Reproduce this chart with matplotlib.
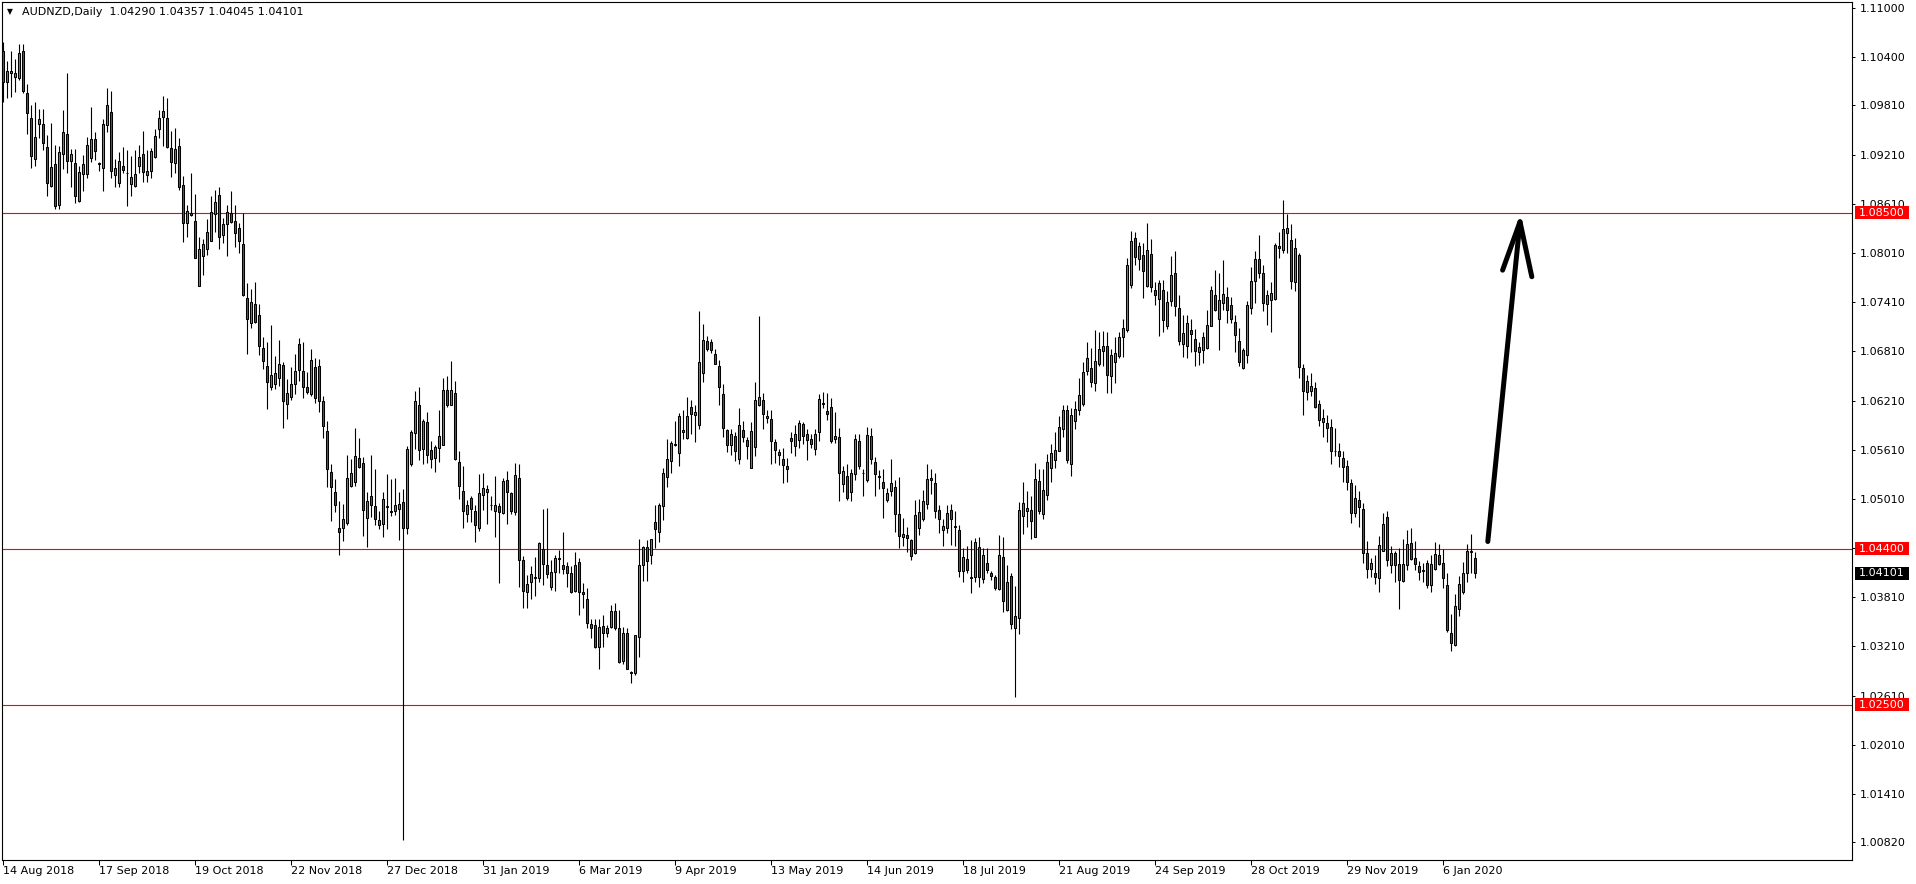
import numpy as np
import pandas as pd
import matplotlib
matplotlib.use('Agg')
from matplotlib import pyplot as plt
from matplotlib.patches import Rectangle
from matplotlib.transforms import blended_transform_factory

# AUDNZD daily candles, 14 Aug 2018 .. 16 Jan 2020
symbol = 'AUDNZD,Daily'
first_day = '2018-08-14'
last_day = '2020-01-16'
holidays = ['2018-12-25', '2019-01-01', '2019-12-25', '2020-01-01']

opens = [
    1.1047, 1.1009, 1.1021, 1.1016, 1.1014, 1.1047, 1.0996, 1.0966, 1.0916, 1.0958,
    1.0958, 1.0930, 1.0883, 1.0910, 1.0859, 1.0922, 1.0946, 1.0913, 1.0911, 1.0864,
    1.0897, 1.0897, 1.0917, 1.0940, 1.0911, 1.0905, 1.0957, 1.0973, 1.0896, 1.0886,
    1.0907, 1.0899, 1.0885, 1.0883, 1.0907, 1.0922, 1.0896, 1.0901, 1.0918, 1.0952,
    1.0967, 1.0966, 1.0929, 1.0911, 1.0932, 1.0884, 1.0837, 1.0850, 1.0840, 1.0761,
    1.0797, 1.0806, 1.0816, 1.0848, 1.0872, 1.0823, 1.0836, 1.0850, 1.0840, 1.0831,
    1.0812, 1.0746, 1.0715, 1.0739, 1.0725, 1.0685, 1.0663, 1.0637, 1.0641, 1.0648,
    1.0664, 1.0617, 1.0625, 1.0641, 1.0690, 1.0657, 1.0638, 1.0629, 1.0662, 1.0663,
    1.0621, 1.0584, 1.0534, 1.0509, 1.0466, 1.0465, 1.0471, 1.0517, 1.0521, 1.0551,
    1.0545, 1.0478, 1.0505, 1.0492, 1.0469, 1.0470, 1.0491, 1.0486, 1.0486, 1.0489,
    1.0497, 1.0465, 1.0543, 1.0581, 1.0616, 1.0562, 1.0595, 1.0561, 1.0551, 1.0563,
    1.0567, 1.0634, 1.0616, 1.0630, 1.0546, 1.0511, 1.0482, 1.0502, 1.0486, 1.0465,
    1.0506, 1.0509, 1.0494, 1.0486, 1.0492, 1.0484, 1.0524, 1.0508, 1.0485, 1.0527,
    1.0426, 1.0388, 1.0399, 1.0406, 1.0404, 1.0440, 1.0420, 1.0393, 1.0412, 1.0428,
    1.0420, 1.0419, 1.0410, 1.0389, 1.0424, 1.0387, 1.0379, 1.0348, 1.0347, 1.0320,
    1.0346, 1.0338, 1.0345, 1.0364, 1.0344, 1.0303, 1.0337, 1.0290, 1.0289, 1.0333,
    1.0420, 1.0442, 1.0432, 1.0473, 1.0461, 1.0492, 1.0528, 1.0547, 1.0567, 1.0557,
    1.0582, 1.0575, 1.0613, 1.0603, 1.0591, 1.0654, 1.0693, 1.0692, 1.0678, 1.0663,
    1.0629, 1.0585, 1.0567, 1.0578, 1.0550, 1.0585, 1.0573, 1.0539, 1.0564, 1.0615,
    1.0622, 1.0600, 1.0599, 1.0570, 1.0558, 1.0550, 1.0541, 1.0575, 1.0565, 1.0573,
    1.0592, 1.0580, 1.0574, 1.0562, 1.0582, 1.0618, 1.0608, 1.0613, 1.0574, 1.0577,
    1.0519, 1.0529, 1.0510, 1.0531, 1.0571, 1.0533, 1.0524, 1.0578, 1.0546, 1.0529,
    1.0521, 1.0500, 1.0511, 1.0515, 1.0482, 1.0455, 1.0457, 1.0451, 1.0435, 1.0466,
    1.0477, 1.0495, 1.0526, 1.0520, 1.0487, 1.0463, 1.0466, 1.0487, 1.0468, 1.0463,
    1.0413, 1.0428, 1.0406, 1.0406, 1.0442, 1.0403, 1.0423, 1.0410, 1.0406, 1.0391,
    1.0430, 1.0365, 1.0407, 1.0343, 1.0356, 1.0480, 1.0486, 1.0487, 1.0455, 1.0523,
    1.0482, 1.0506, 1.0539, 1.0549, 1.0560, 1.0586, 1.0610, 1.0543, 1.0596, 1.0609,
    1.0617, 1.0657, 1.0661, 1.0642, 1.0666, 1.0681, 1.0688, 1.0651, 1.0668, 1.0675,
    1.0698, 1.0707, 1.0762, 1.0819, 1.0794, 1.0799, 1.0761, 1.0800, 1.0756, 1.0745,
    1.0756, 1.0712, 1.0742, 1.0777, 1.0734, 1.0690, 1.0687, 1.0707, 1.0696, 1.0680,
    1.0682, 1.0685, 1.0712, 1.0750, 1.0720, 1.0740, 1.0747, 1.0737, 1.0717, 1.0694,
    1.0661, 1.0676, 1.0734, 1.0767, 1.0794, 1.0777, 1.0739, 1.0743, 1.0745, 1.0809,
    1.0804, 1.0825, 1.0817, 1.0766, 1.0798, 1.0661, 1.0631, 1.0632, 1.0636, 1.0617,
    1.0595, 1.0594, 1.0589, 1.0560, 1.0559, 1.0551, 1.0541, 1.0520, 1.0484, 1.0500,
    1.0489, 1.0435, 1.0416, 1.0410, 1.0404, 1.0438, 1.0479, 1.0420, 1.0435, 1.0421,
    1.0401, 1.0420, 1.0447, 1.0429, 1.0419, 1.0414, 1.0423, 1.0396, 1.0415, 1.0433,
    1.0423, 1.0396, 1.0337, 1.0323, 1.0367, 1.0387, 1.0410, 1.0436, 1.04290,
]
highs = [
    1.1058, 1.1035, 1.1047, 1.1038, 1.1056, 1.1056, 1.1007, 1.0981, 1.0985, 1.0976,
    1.0977, 1.0945, 1.0960, 1.0933, 1.0932, 1.0975, 1.1020, 1.0928, 1.0928, 1.0907,
    1.0921, 1.0943, 1.0979, 1.0949, 1.0912, 1.0964, 1.1002, 1.0998, 1.0915, 1.0924,
    1.0930, 1.0926, 1.0919, 1.0927, 1.0933, 1.0950, 1.0927, 1.0929, 1.0952, 1.0975,
    1.0993, 1.0990, 1.0950, 1.0953, 1.0941, 1.0895, 1.0859, 1.0899, 1.0873, 1.0820,
    1.0818, 1.0842, 1.0870, 1.0878, 1.0882, 1.0844, 1.0859, 1.0877, 1.0859, 1.0837,
    1.0850, 1.0764, 1.0757, 1.0766, 1.0739, 1.0698, 1.0692, 1.0713, 1.0675, 1.0695,
    1.0668, 1.0647, 1.0662, 1.0678, 1.0697, 1.0692, 1.0656, 1.0684, 1.0673, 1.0672,
    1.0626, 1.0596, 1.0544, 1.0525, 1.0499, 1.0495, 1.0555, 1.0550, 1.0587, 1.0575,
    1.0552, 1.0510, 1.0555, 1.0538, 1.0486, 1.0510, 1.0531, 1.0525, 1.0526, 1.0509,
    1.0513, 1.0566, 1.0585, 1.0632, 1.0638, 1.0598, 1.0607, 1.0572, 1.0567, 1.0610,
    1.0649, 1.0651, 1.0669, 1.0645, 1.0559, 1.0541, 1.0500, 1.0505, 1.0493, 1.0531,
    1.0532, 1.0518, 1.0505, 1.0529, 1.0496, 1.0527, 1.0535, 1.0510, 1.0545, 1.0544,
    1.0431, 1.0408, 1.0419, 1.0430, 1.0449, 1.0489, 1.0490, 1.0427, 1.0433, 1.0439,
    1.0460, 1.0424, 1.0419, 1.0436, 1.0429, 1.0398, 1.0392, 1.0354, 1.0354, 1.0354,
    1.0359, 1.0347, 1.0371, 1.0374, 1.0365, 1.0345, 1.0343, 1.0291, 1.0335, 1.0452,
    1.0444, 1.0451, 1.0452, 1.0493, 1.0496, 1.0539, 1.0574, 1.0571, 1.0596, 1.0606,
    1.0610, 1.0625, 1.0622, 1.0616, 1.0730, 1.0714, 1.0700, 1.0696, 1.0684, 1.0671,
    1.0641, 1.0586, 1.0586, 1.0582, 1.0612, 1.0596, 1.0576, 1.0595, 1.0643, 1.0724,
    1.0630, 1.0610, 1.0609, 1.0574, 1.0562, 1.0563, 1.0551, 1.0582, 1.0591, 1.0597,
    1.0595, 1.0586, 1.0580, 1.0586, 1.0629, 1.0631, 1.0630, 1.0624, 1.0607, 1.0588,
    1.0541, 1.0544, 1.0537, 1.0580, 1.0580, 1.0538, 1.0589, 1.0588, 1.0552, 1.0536,
    1.0538, 1.0514, 1.0550, 1.0524, 1.0528, 1.0478, 1.0467, 1.0452, 1.0500, 1.0501,
    1.0512, 1.0544, 1.0538, 1.0533, 1.0493, 1.0476, 1.0493, 1.0495, 1.0486, 1.0469,
    1.0441, 1.0443, 1.0451, 1.0453, 1.0454, 1.0441, 1.0441, 1.0413, 1.0408, 1.0457,
    1.0455, 1.0420, 1.0411, 1.0395, 1.0497, 1.0521, 1.0511, 1.0504, 1.0545, 1.0537,
    1.0537, 1.0556, 1.0568, 1.0582, 1.0602, 1.0615, 1.0615, 1.0612, 1.0620, 1.0649,
    1.0668, 1.0692, 1.0685, 1.0707, 1.0705, 1.0706, 1.0705, 1.0684, 1.0698, 1.0704,
    1.0721, 1.0795, 1.0828, 1.0826, 1.0814, 1.0813, 1.0837, 1.0818, 1.0765, 1.0768,
    1.0768, 1.0754, 1.0797, 1.0803, 1.0750, 1.0725, 1.0725, 1.0720, 1.0708, 1.0692,
    1.0704, 1.0732, 1.0761, 1.0780, 1.0776, 1.0792, 1.0759, 1.0747, 1.0725, 1.0709,
    1.0685, 1.0742, 1.0784, 1.0803, 1.0823, 1.0786, 1.0756, 1.0766, 1.0813, 1.0826,
    1.0865, 1.0849, 1.0836, 1.0819, 1.0801, 1.0666, 1.0652, 1.0655, 1.0644, 1.0622,
    1.0611, 1.0603, 1.0599, 1.0588, 1.0569, 1.0559, 1.0549, 1.0525, 1.0518, 1.0511,
    1.0496, 1.0450, 1.0429, 1.0432, 1.0456, 1.0484, 1.0486, 1.0444, 1.0437, 1.0441,
    1.0452, 1.0463, 1.0465, 1.0450, 1.0425, 1.0423, 1.0427, 1.0432, 1.0449, 1.0446,
    1.0440, 1.0410, 1.0361, 1.0385, 1.0407, 1.0424, 1.0446, 1.0458, 1.04357,
]
lows = [
    1.0985, 1.0990, 1.0991, 1.0997, 1.1012, 1.0996, 1.0946, 1.0905, 1.0907, 1.0941,
    1.0926, 1.0870, 1.0881, 1.0854, 1.0854, 1.0903, 1.0899, 1.0881, 1.0862, 1.0863,
    1.0876, 1.0892, 1.0912, 1.0914, 1.0901, 1.0876, 1.0948, 1.0892, 1.0882, 1.0882,
    1.0898, 1.0858, 1.0871, 1.0882, 1.0899, 1.0888, 1.0888, 1.0892, 1.0917, 1.0941,
    1.0931, 1.0929, 1.0894, 1.0899, 1.0878, 1.0814, 1.0820, 1.0846, 1.0795, 1.0761,
    1.0774, 1.0798, 1.0815, 1.0827, 1.0806, 1.0813, 1.0797, 1.0838, 1.0808, 1.0801,
    1.0748, 1.0678, 1.0709, 1.0715, 1.0676, 1.0660, 1.0611, 1.0634, 1.0635, 1.0639,
    1.0588, 1.0599, 1.0622, 1.0629, 1.0645, 1.0624, 1.0629, 1.0626, 1.0618, 1.0607,
    1.0575, 1.0515, 1.0474, 1.0485, 1.0433, 1.0450, 1.0469, 1.0515, 1.0517, 1.0539,
    1.0456, 1.0442, 1.0479, 1.0469, 1.0464, 1.0454, 1.0464, 1.0480, 1.0481, 1.0451,
    1.0085, 1.0458, 1.0541, 1.0562, 1.0549, 1.0544, 1.0545, 1.0539, 1.0534, 1.0546,
    1.0567, 1.0613, 1.0615, 1.0549, 1.0501, 1.0465, 1.0473, 1.0473, 1.0449, 1.0462,
    1.0488, 1.0470, 1.0487, 1.0454, 1.0398, 1.0483, 1.0470, 1.0483, 1.0481, 1.0394,
    1.0368, 1.0368, 1.0379, 1.0382, 1.0400, 1.0396, 1.0405, 1.0390, 1.0389, 1.0410,
    1.0409, 1.0394, 1.0386, 1.0388, 1.0359, 1.0368, 1.0343, 1.0331, 1.0319, 1.0293,
    1.0320, 1.0332, 1.0344, 1.0341, 1.0301, 1.0299, 1.0293, 1.0276, 1.0286, 1.0308,
    1.0401, 1.0401, 1.0421, 1.0441, 1.0449, 1.0475, 1.0515, 1.0532, 1.0566, 1.0541,
    1.0574, 1.0574, 1.0580, 1.0570, 1.0586, 1.0644, 1.0681, 1.0679, 1.0665, 1.0616,
    1.0576, 1.0558, 1.0555, 1.0547, 1.0543, 1.0570, 1.0550, 1.0539, 1.0553, 1.0614,
    1.0586, 1.0593, 1.0544, 1.0545, 1.0542, 1.0520, 1.0522, 1.0557, 1.0553, 1.0563,
    1.0568, 1.0548, 1.0563, 1.0554, 1.0571, 1.0612, 1.0597, 1.0569, 1.0569, 1.0499,
    1.0509, 1.0500, 1.0498, 1.0524, 1.0537, 1.0505, 1.0522, 1.0544, 1.0505, 1.0513,
    1.0478, 1.0497, 1.0504, 1.0460, 1.0441, 1.0444, 1.0436, 1.0426, 1.0434, 1.0457,
    1.0474, 1.0489, 1.0507, 1.0478, 1.0459, 1.0444, 1.0459, 1.0445, 1.0444, 1.0406,
    1.0399, 1.0410, 1.0386, 1.0399, 1.0394, 1.0398, 1.0410, 1.0402, 1.0390, 1.0390,
    1.0363, 1.0364, 1.0342, 1.0259, 1.0336, 1.0458, 1.0467, 1.0452, 1.0454, 1.0483,
    1.0477, 1.0500, 1.0522, 1.0539, 1.0559, 1.0577, 1.0545, 1.0529, 1.0586, 1.0603,
    1.0614, 1.0652, 1.0637, 1.0633, 1.0663, 1.0663, 1.0630, 1.0630, 1.0642, 1.0673,
    1.0674, 1.0705, 1.0758, 1.0786, 1.0780, 1.0746, 1.0760, 1.0753, 1.0737, 1.0700,
    1.0704, 1.0708, 1.0736, 1.0724, 1.0689, 1.0674, 1.0673, 1.0680, 1.0663, 1.0664,
    1.0667, 1.0684, 1.0712, 1.0730, 1.0682, 1.0732, 1.0715, 1.0715, 1.0680, 1.0663,
    1.0660, 1.0667, 1.0726, 1.0740, 1.0771, 1.0730, 1.0713, 1.0705, 1.0743, 1.0795,
    1.0801, 1.0801, 1.0757, 1.0754, 1.0648, 1.0603, 1.0622, 1.0627, 1.0612, 1.0590,
    1.0577, 1.0570, 1.0544, 1.0553, 1.0540, 1.0522, 1.0512, 1.0472, 1.0479, 1.0467,
    1.0423, 1.0405, 1.0406, 1.0397, 1.0388, 1.0437, 1.0419, 1.0411, 1.0400, 1.0367,
    1.0400, 1.0414, 1.0427, 1.0414, 1.0402, 1.0399, 1.0392, 1.0387, 1.0414, 1.0420,
    1.0392, 1.0339, 1.0315, 1.0322, 1.0358, 1.0385, 1.0399, 1.0411, 1.04045,
]
closes = [
    1.1010, 1.1023, 1.1023, 1.1020, 1.1045, 1.0998, 1.0972, 1.0919, 1.0943, 1.0964,
    1.0935, 1.0886, 1.0906, 1.0858, 1.0924, 1.0948, 1.0913, 1.0922, 1.0871, 1.0900,
    1.0910, 1.0933, 1.0940, 1.0925, 1.0909, 1.0958, 1.0982, 1.0901, 1.0905, 1.0913,
    1.0902, 1.0899, 1.0894, 1.0897, 1.0918, 1.0900, 1.0901, 1.0925, 1.0944, 1.0966,
    1.0974, 1.0930, 1.0912, 1.0928, 1.0881, 1.0838, 1.0852, 1.0847, 1.0795, 1.0806,
    1.0812, 1.0826, 1.0851, 1.0863, 1.0821, 1.0836, 1.0851, 1.0839, 1.0825, 1.0816,
    1.0750, 1.0721, 1.0741, 1.0717, 1.0688, 1.0669, 1.0643, 1.0652, 1.0654, 1.0665,
    1.0620, 1.0630, 1.0641, 1.0657, 1.0658, 1.0637, 1.0631, 1.0670, 1.0624, 1.0620,
    1.0590, 1.0538, 1.0515, 1.0493, 1.0461, 1.0477, 1.0526, 1.0532, 1.0553, 1.0540,
    1.0488, 1.0499, 1.0493, 1.0476, 1.0475, 1.0501, 1.0492, 1.0485, 1.0493, 1.0495,
    1.0466, 1.0562, 1.0582, 1.0621, 1.0561, 1.0596, 1.0555, 1.0550, 1.0564, 1.0578,
    1.0634, 1.0615, 1.0634, 1.0550, 1.0517, 1.0486, 1.0493, 1.0489, 1.0469, 1.0508,
    1.0514, 1.0513, 1.0493, 1.0493, 1.0485, 1.0523, 1.0509, 1.0486, 1.0530, 1.0427,
    1.0389, 1.0397, 1.0409, 1.0405, 1.0447, 1.0422, 1.0409, 1.0412, 1.0429, 1.0429,
    1.0416, 1.0410, 1.0387, 1.0420, 1.0388, 1.0385, 1.0350, 1.0343, 1.0320, 1.0345,
    1.0337, 1.0343, 1.0364, 1.0343, 1.0302, 1.0337, 1.0293, 1.0289, 1.0335, 1.0420,
    1.0442, 1.0425, 1.0452, 1.0464, 1.0493, 1.0532, 1.0550, 1.0569, 1.0568, 1.0602,
    1.0585, 1.0602, 1.0604, 1.0607, 1.0668, 1.0695, 1.0684, 1.0682, 1.0666, 1.0638,
    1.0587, 1.0567, 1.0580, 1.0559, 1.0591, 1.0576, 1.0566, 1.0584, 1.0622, 1.0625,
    1.0604, 1.0602, 1.0572, 1.0561, 1.0555, 1.0542, 1.0538, 1.0571, 1.0580, 1.0593,
    1.0578, 1.0573, 1.0568, 1.0580, 1.0623, 1.0617, 1.0605, 1.0572, 1.0578, 1.0532,
    1.0535, 1.0502, 1.0532, 1.0574, 1.0541, 1.0532, 1.0579, 1.0550, 1.0531, 1.0528,
    1.0514, 1.0508, 1.0520, 1.0483, 1.0456, 1.0458, 1.0453, 1.0431, 1.0481, 1.0485,
    1.0498, 1.0525, 1.0524, 1.0486, 1.0476, 1.0468, 1.0484, 1.0476, 1.0467, 1.0413,
    1.0430, 1.0414, 1.0405, 1.0448, 1.0406, 1.0432, 1.0414, 1.0407, 1.0392, 1.0432,
    1.0377, 1.0400, 1.0348, 1.0358, 1.0487, 1.0496, 1.0490, 1.0474, 1.0525, 1.0486,
    1.0512, 1.0546, 1.0557, 1.0561, 1.0589, 1.0610, 1.0549, 1.0603, 1.0611, 1.0628,
    1.0656, 1.0673, 1.0644, 1.0669, 1.0684, 1.0688, 1.0652, 1.0676, 1.0679, 1.0699,
    1.0709, 1.0786, 1.0815, 1.0796, 1.0809, 1.0779, 1.0805, 1.0759, 1.0750, 1.0764,
    1.0719, 1.0741, 1.0774, 1.0736, 1.0694, 1.0703, 1.0715, 1.0702, 1.0681, 1.0686,
    1.0698, 1.0713, 1.0756, 1.0731, 1.0743, 1.0751, 1.0732, 1.0720, 1.0701, 1.0668,
    1.0682, 1.0738, 1.0767, 1.0793, 1.0776, 1.0740, 1.0750, 1.0752, 1.0811, 1.0807,
    1.0830, 1.0831, 1.0767, 1.0807, 1.0662, 1.0632, 1.0645, 1.0639, 1.0613, 1.0597,
    1.0600, 1.0587, 1.0560, 1.0559, 1.0553, 1.0540, 1.0522, 1.0484, 1.0502, 1.0491,
    1.0435, 1.0415, 1.0423, 1.0406, 1.0445, 1.0470, 1.0427, 1.0435, 1.0420, 1.0402,
    1.0421, 1.0446, 1.0428, 1.0421, 1.0412, 1.0413, 1.0396, 1.0421, 1.0434, 1.0421,
    1.0404, 1.0341, 1.0325, 1.0370, 1.0397, 1.0410, 1.0438, 1.0437, 1.04101,
]

# horizontal levels drawn on the chart
levels = [1.08500, 1.04400, 1.02500]
price_ticks = [1.11000, 1.10400, 1.09810, 1.09210, 1.08610, 1.08010, 1.07410,
               1.06810, 1.06210, 1.05610, 1.05010, 1.04410, 1.03810, 1.03210,
               1.02610, 1.02010, 1.01410, 1.00820]
date_step = 24

# hand drawn arrow (bar index, price)
arrow_x = [371.2, 379.25]
arrow_y = [1.0449, 1.0839]
head_x = [374.9, 379.25, 382.2]
head_y = [1.0780, 1.0839, 1.0772]

W, H = 1916, 884
plt.rcParams['font.family'] = 'DejaVu Sans'
plt.rcParams['font.size'] = 8

o = np.array(opens)
hi = np.array(highs)
lo = np.array(lows)
c = np.array(closes)
x = np.arange(len(c))

days = pd.bdate_range(first_day, last_day)
days = days[~days.isin(pd.to_datetime(holidays))][:len(c)]

fig = plt.figure(figsize=(W / 100, H / 100), dpi=100, facecolor='white')
# plot area in pixels: left 2, right 1852, top 2, bottom 860
ax = fig.add_axes([2 / W, 24 / H, 1850 / W, 858 / H])
ax.set_facecolor('white')

ax.vlines(x, lo, hi, color='black', lw=0.8, zorder=2)
up = c >= o
ax.bar(x[up], (c - o)[up], bottom=o[up], width=0.5, color='#33ad33',
       edgecolor='black', lw=0.75, zorder=3)
ax.bar(x[~up], (o - c)[~up], bottom=c[~up], width=0.5, color='#e21b1b',
       edgecolor='black', lw=0.75, zorder=3)

for lv in levels:
    ax.axhline(lv, color='#ff0000', lw=0.8, zorder=1)

# arrow
ax.plot(arrow_x, arrow_y, color='black', lw=3.6, solid_capstyle='round', zorder=6)
ax.plot(head_x, head_y, color='black', lw=3.6, solid_capstyle='round',
        solid_joinstyle='round', zorder=6)

ax.set_xlim(-0.25, 462.25)
ax.set_ylim(1.00605, 1.11071)

ax.yaxis.tick_right()
ax.set_yticks(price_ticks)
ax.set_yticklabels([f'{v:.5f}' for v in price_ticks])
ax.tick_params(axis='y', length=2.5, width=0.75, pad=3, labelsize=8, colors='black')

xt = list(range(0, len(c), date_step))
ax.set_xticks(xt)
ax.set_xticklabels([f'{days[i].day} {days[i].strftime("%b %Y")}' for i in xt], ha='left')
ax.tick_params(axis='x', length=3.5, width=0.75, pad=1, labelsize=8, colors='black')

for s in ax.spines.values():
    s.set_color('black')
    s.set_linewidth(0.8)

# price boxes on the scale
tr = blended_transform_factory(fig.transFigure, ax.transData)
box_h = 13 / (858 / (1.11071 - 1.00605))
for lv, fc in [(levels[0], '#ff0000'), (levels[1], '#ff0000'), (levels[2], '#ff0000'),
               (closes[-1], 'black')]:
    ax.add_patch(Rectangle((1855 / W, lv - box_h / 2), 54 / W, box_h, transform=tr,
                           facecolor=fc, edgecolor='none', clip_on=False, zorder=7))
    ax.text(1882 / W, lv, f'{lv:.5f}', transform=tr, ha='center', va='center',
            color='white', fontsize=8, clip_on=False, zorder=8)

# header
fig.text(7 / W, 1 - 12 / H, '\u25BC', fontsize=5.5, va='center', ha='left', color='black')
fig.text(22 / W, 1 - 12 / H,
         f'{symbol}  {opens[-1]:.5f} {highs[-1]:.5f} {lows[-1]:.5f} {closes[-1]:.5f}',
         fontsize=8, va='center', ha='left', color='black')

fig.savefig('out.png', dpi=100, facecolor='white')
